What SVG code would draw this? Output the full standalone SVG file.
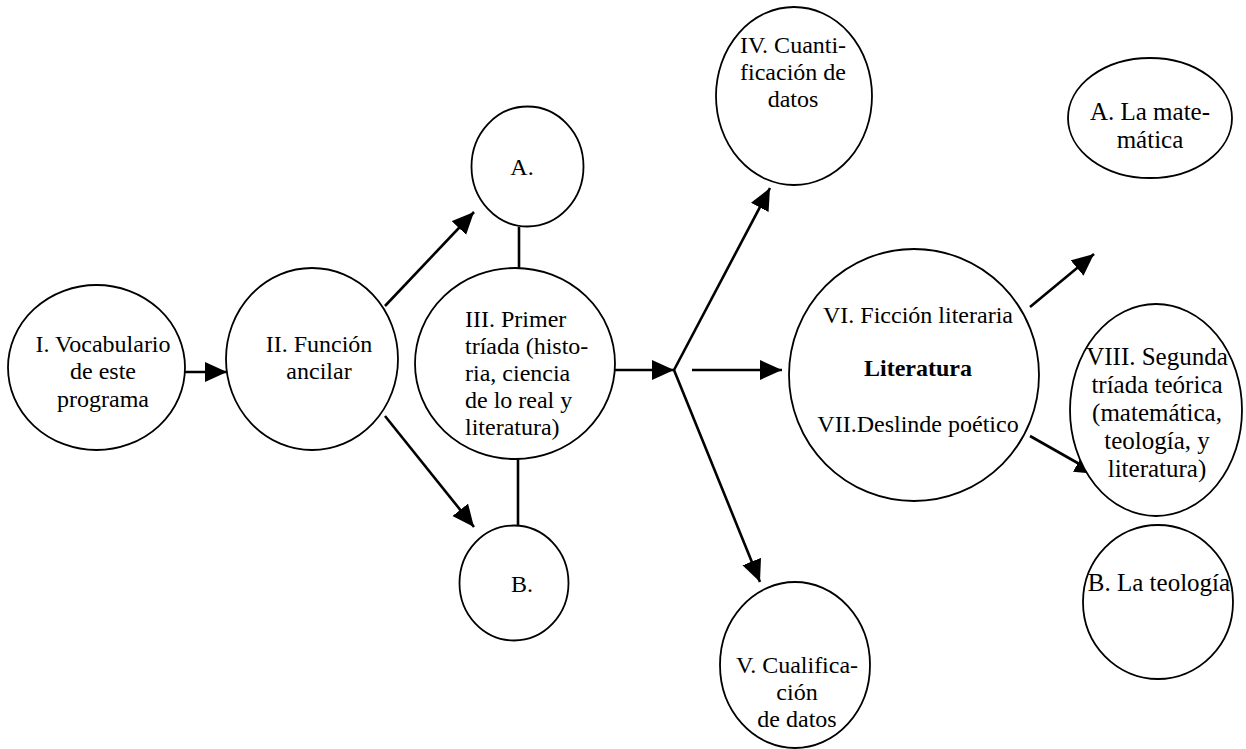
<svg xmlns="http://www.w3.org/2000/svg" width="1246" height="749" viewBox="0 0 1246 749">
<style>
.n{fill:#fff;stroke:#000;stroke-width:1.8}
.t{font-family:"Liberation Serif","Times New Roman",serif;font-size:24px;fill:#000;text-anchor:middle}
.l{text-anchor:start}
.r{font-size:25px}
.b{font-weight:bold}
.c{stroke:#000;stroke-width:2.6;fill:none}
</style>
<defs>
<marker id="ah" markerUnits="userSpaceOnUse" markerWidth="24" markerHeight="22" refX="22" refY="10" orient="auto">
<path d="M0,0 L22,10 L0,20 Z" fill="#000"/>
</marker>
</defs>
<rect width="1246" height="749" fill="#fff"/>
<g id="connectors">
<line class="c" x1="185" y1="372" x2="227" y2="372" marker-end="url(#ah)"/>
<line class="c" x1="385" y1="306" x2="474" y2="212" marker-end="url(#ah)"/>
<line class="c" x1="385" y1="416" x2="474" y2="527" marker-end="url(#ah)"/>
<line class="c" x1="519" y1="227" x2="519" y2="268"/>
<line class="c" x1="518" y1="459" x2="518" y2="525"/>
<line class="c" x1="615" y1="370" x2="674" y2="370" marker-end="url(#ah)"/>
<line class="c" x1="674" y1="370" x2="770" y2="188" marker-end="url(#ah)"/>
<line class="c" x1="674" y1="370" x2="760" y2="582" marker-end="url(#ah)"/>
<line class="c" x1="692" y1="370" x2="782" y2="370" marker-end="url(#ah)"/>
<line class="c" x1="1030" y1="307" x2="1094" y2="254" marker-end="url(#ah)"/>
<line class="c" x1="1030" y1="436" x2="1097" y2="474" marker-end="url(#ah)"/>
</g>
<g id="n1"><ellipse class="n" cx="96.5" cy="367.5" rx="88.5" ry="82.5"/>
<text class="t" x="103" y="352">I. Vocabulario</text><text class="t" x="103" y="379">de este</text><text class="t" x="103" y="407">programa</text></g>
<g id="n2"><ellipse class="n" cx="312" cy="359" rx="86" ry="91"/>
<text class="t" x="319" y="352">II. Función</text><text class="t" x="319" y="379">ancilar</text></g>
<g id="nA"><ellipse class="n" cx="527.5" cy="166.5" rx="56" ry="60"/>
<text class="t" x="522" y="175">A.</text></g>
<g id="n3"><ellipse class="n" cx="515" cy="363.5" rx="100" ry="95.5"/>
<text class="t l" x="465" y="327">III. Primer</text><text class="t l" x="465" y="354">tríada (histo-</text><text class="t l" x="465" y="381">ria, ciencia</text><text class="t l" x="465" y="408">de lo real y</text><text class="t l" x="465" y="435">literatura)</text></g>
<g id="nB"><ellipse class="n" cx="514" cy="583" rx="54.5" ry="57.5"/>
<text class="t" x="522" y="592">B.</text></g>
<g id="n4"><ellipse class="n" cx="794" cy="96" rx="78" ry="89"/>
<text class="t" x="793" y="53">IV. Cuanti-</text><text class="t" x="793" y="80">ficación de</text><text class="t" x="793" y="107">datos</text></g>
<g id="n5"><ellipse class="n" cx="795" cy="665" rx="75" ry="83"/>
<text class="t" x="797" y="673">V. Cualifica-</text><text class="t" x="797" y="700">ción</text><text class="t" x="797" y="727">de datos</text></g>
<g id="n6"><ellipse class="n" cx="914" cy="375" rx="125" ry="126"/>
<text class="t" x="918" y="323">VI. Ficción literaria</text><text class="t b" x="918" y="376">Literatura</text><text class="t" x="918" y="432">VII.Deslinde poético</text></g>
<g id="nAr"><ellipse class="n" cx="1150" cy="118" rx="82" ry="60"/>
<text class="t r" x="1150" y="120">A. La mate-</text><text class="t r" x="1150" y="148">mática</text></g>
<g id="n8"><ellipse class="n" cx="1156" cy="410" rx="86" ry="106"/>
<text class="t r" x="1157" y="365">VIII. Segunda</text><text class="t r" x="1157" y="393">tríada teórica</text><text class="t r" x="1157" y="421">(matemática,</text><text class="t r" x="1157" y="449">teología, y</text><text class="t r" x="1157" y="477">literatura)</text></g>
<g id="nBr"><ellipse class="n" cx="1158" cy="602" rx="75" ry="77"/>
<text class="t r" x="1159" y="591">B. La teología</text></g>
</svg>
